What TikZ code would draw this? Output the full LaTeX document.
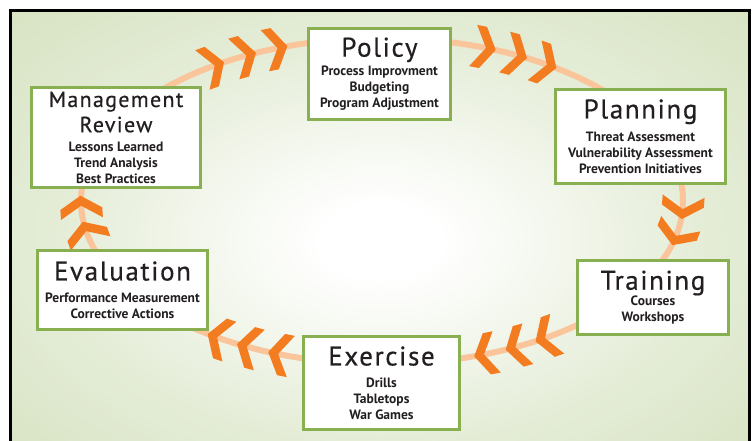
\documentclass[tikz,border=0pt]{standalone}
\usepackage{fontspec}
\setmainfont{PT Sans}
\definecolor{bggreen}{RGB}{196,214,166}
\definecolor{boxgreen}{RGB}{137,176,80}
\definecolor{ringorange}{RGB}{251,197,156}
\definecolor{chevorange}{RGB}{244,124,32}
\definecolor{textdark}{RGB}{35,31,32}
\pgfdeclareradialshading{bgglow}{\pgfpoint{0bp}{0bp}}{color(0bp)=(white); color(4bp)=(white); color(22bp)=(bggreen!45!white); color(48bp)=(bggreen!88!white); color(70bp)=(bggreen)}
\newcommand{\stagetitle}[2][27]{{\fontsize{#1}{#1}\selectfont\mdseries\addfontfeature{LetterSpace=6,FakeBold=0.5}#2}}

\begin{document}
\begin{tikzpicture}[x=1pt,y=1pt,
	stage/.style={draw=boxgreen, line width=3pt, fill=white, align=center, text=textdark, inner sep=0pt, font=\fontsize{13.5}{16}\selectfont\bfseries},
	ring/.style={ringorange, line width=6pt},
	chev/.style={fill=chevorange}]
	\useasboundingbox (0,0) rectangle (752,-440);
	\clip (0,0) rectangle (752,-440);
	\shade[shading=bgglow] (12,-12) rectangle (748,-470);
	\draw[line width=3pt] (10.5,-10.5) rectangle (749.5,-470);
	
	\draw[ring] (382,-201) ellipse [x radius=301, y radius=163];
	\foreach \t in {124,117,110.5, 70,63.5,57, -2.5,-12, -57,-63.5,-70, -110,-116.5,-123, 191,182}
		\fill[chev, shift={({382+301*cos(\t)},{-201+163*sin(\t)})}, rotate={atan2(-163*cos(\t),301*sin(\t))}]
			(-2,21) -- (11,0) -- (-2,-21) -- (-12,-21) -- (1,0) -- (-12,21) -- cycle;
	
	\node[stage, minimum width=142pt, minimum height=91pt] (Po) at (379.5,-74) {\stagetitle{Policy}\\[3pt] Process Improvment\\ Budgeting\\ Program Adjustment};
	\node[stage, minimum width=170pt, minimum height=94pt] (Pl) at (640.5,-136.5) {\stagetitle{Planning}\\[7pt] Threat Assessment\\ Vulnerability Assessment\\ Prevention Initiatives};
	\node[stage, minimum width=151pt, minimum height=74pt] (Tr) at (653,-297.5) {\stagetitle{Training}\\[0pt] Courses\\ Workshops};
	\node[stage, minimum width=156pt, minimum height=93pt] (Ex) at (381.5,-383) {\stagetitle{Exercise}\\[6pt] Drills\\ Tabletops\\ War Games};
	\node[stage, minimum width=170pt, minimum height=79pt] (Ev) at (122.5,-290) {\stagetitle{Evaluation}\\[6pt] Performance Measurement\\ Corrective Actions};
	\node[stage, minimum width=169pt, minimum height=100pt] (Mr) at (116,-137.5) {\stagetitle[22]{Management}\\[4pt] \stagetitle[22]{Review}\\[3pt] Lessons Learned\\ Trend Analysis\\ Best Practices};
\end{tikzpicture}
\end{document}
